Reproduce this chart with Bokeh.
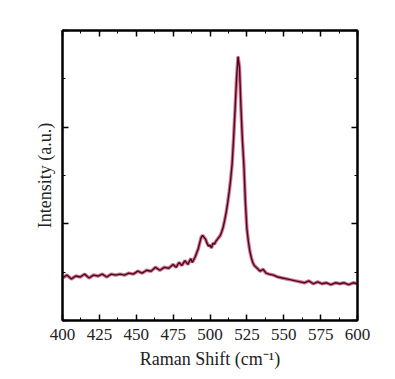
from bokeh.plotting import figure
from bokeh.models import LinearAxis, Range1d, FixedTicker, CustomJSTickFormatter
from bokeh.embed import file_html
from bokeh.resources import INLINE

# Raman spectrum
shift = [400, 403, 406, 409, 412, 415, 418, 421, 424, 427, 430, 433, 436, 439,
         442, 445, 448, 451, 454, 457, 460, 463, 466, 469, 472, 475, 477, 479,
         481, 483, 485, 487, 488, 490, 491, 492, 493, 494, 495, 496, 497, 498,
         499, 500, 501, 502, 503, 504, 505, 506, 507, 508, 509, 510, 511, 512,
         513, 514, 515, 516, 517, 518, 519, 520, 521, 522, 523, 524, 525, 526,
         527, 528, 529, 530, 532, 534, 536, 538, 540, 543, 546, 549, 552, 555,
         558, 561, 564, 567, 570, 573, 576, 579, 582, 585, 588, 591, 594, 597, 600]
intensity = [0.44, 0.47, 0.43, 0.46, 0.45, 0.48, 0.44, 0.47, 0.46, 0.48, 0.45, 0.48, 0.47, 0.48,
             0.47, 0.49, 0.48, 0.51, 0.49, 0.52, 0.51, 0.55, 0.52, 0.55, 0.54, 0.58, 0.55, 0.60,
             0.57, 0.62, 0.58, 0.64, 0.60, 0.66, 0.70, 0.74, 0.80, 0.86, 0.88, 0.86, 0.84, 0.80,
             0.77, 0.78, 0.75, 0.80, 0.79, 0.82, 0.84, 0.86, 0.88, 0.92, 0.97, 1.04, 1.12, 1.22,
             1.33, 1.46, 1.62, 1.88, 2.18, 2.50, 2.73, 2.62, 2.20, 1.86, 1.60, 1.22, 0.95, 0.82,
             0.72, 0.65, 0.60, 0.57, 0.54, 0.51, 0.53, 0.49, 0.48, 0.47, 0.45, 0.44, 0.43, 0.42,
             0.41, 0.40, 0.39, 0.41, 0.38, 0.40, 0.38, 0.39, 0.37, 0.39, 0.38, 0.39, 0.37, 0.39, 0.38]

x_ticks = [400, 425, 450, 475, 500, 525, 550, 575, 600]
x_minor = [412.5, 437.5, 462.5, 487.5, 512.5, 537.5, 562.5, 587.5]
y_ticks = [0, 1, 2, 3]
y_minor = [0.5, 1.5, 2.5]

FONT = "Liberation Serif"

p = figure(width=395, height=379, x_range=Range1d(400, 600), y_range=Range1d(0, 3),
           output_backend="svg", toolbar_location=None,
           min_border_left=62, min_border_right=38, min_border_top=30, min_border_bottom=59,
           x_axis_label="Raman Shift (cm\u207b\u00b9)", y_axis_label="Intensity (a.u.)")
p.background_fill_color = "white"
p.border_fill_color = "white"
p.outline_line_color = "black"
p.outline_line_width = 2
p.xgrid.visible = False
p.ygrid.visible = False

p.line(shift, intensity, line_color="#c23a62", line_width=3.5, line_alpha=0.7)
p.line(shift, intensity, line_color="#4a0a1e", line_width=1.4)

def style(ax, ticks, minor, labels=True):
    ax.ticker = FixedTicker(ticks=ticks, minor_ticks=minor)
    ax.axis_line_color = "black"
    ax.axis_line_width = 2
    ax.major_tick_in = 6
    ax.major_tick_out = 0
    ax.minor_tick_in = 3
    ax.minor_tick_out = 0
    ax.major_tick_line_width = 1.5
    ax.minor_tick_line_width = 1
    ax.major_label_text_font = FONT
    ax.major_label_text_font_size = "17px"
    ax.major_label_text_color = "#222222"
    ax.axis_label_text_font = FONT
    ax.axis_label_text_font_size = "18px"
    ax.axis_label_text_font_style = "normal"
    ax.axis_label_text_color = "#222222"
    if not labels:
        ax.formatter = CustomJSTickFormatter(code="return ''")

xa = p.xaxis[0]
style(xa, x_ticks, x_minor)
xa.major_label_standoff = 8
xa.axis_label_standoff = 6

ya = p.yaxis[0]
style(ya, y_ticks, y_minor, labels=False)
ya.major_label_standoff = 0
ya.axis_label_standoff = 8

top = LinearAxis()
style(top, x_ticks, x_minor, labels=False)
p.add_layout(top, "above")
right = LinearAxis()
style(right, y_ticks, y_minor, labels=False)
p.add_layout(right, "right")

open("out.html", "w").write(file_html(p, INLINE))
